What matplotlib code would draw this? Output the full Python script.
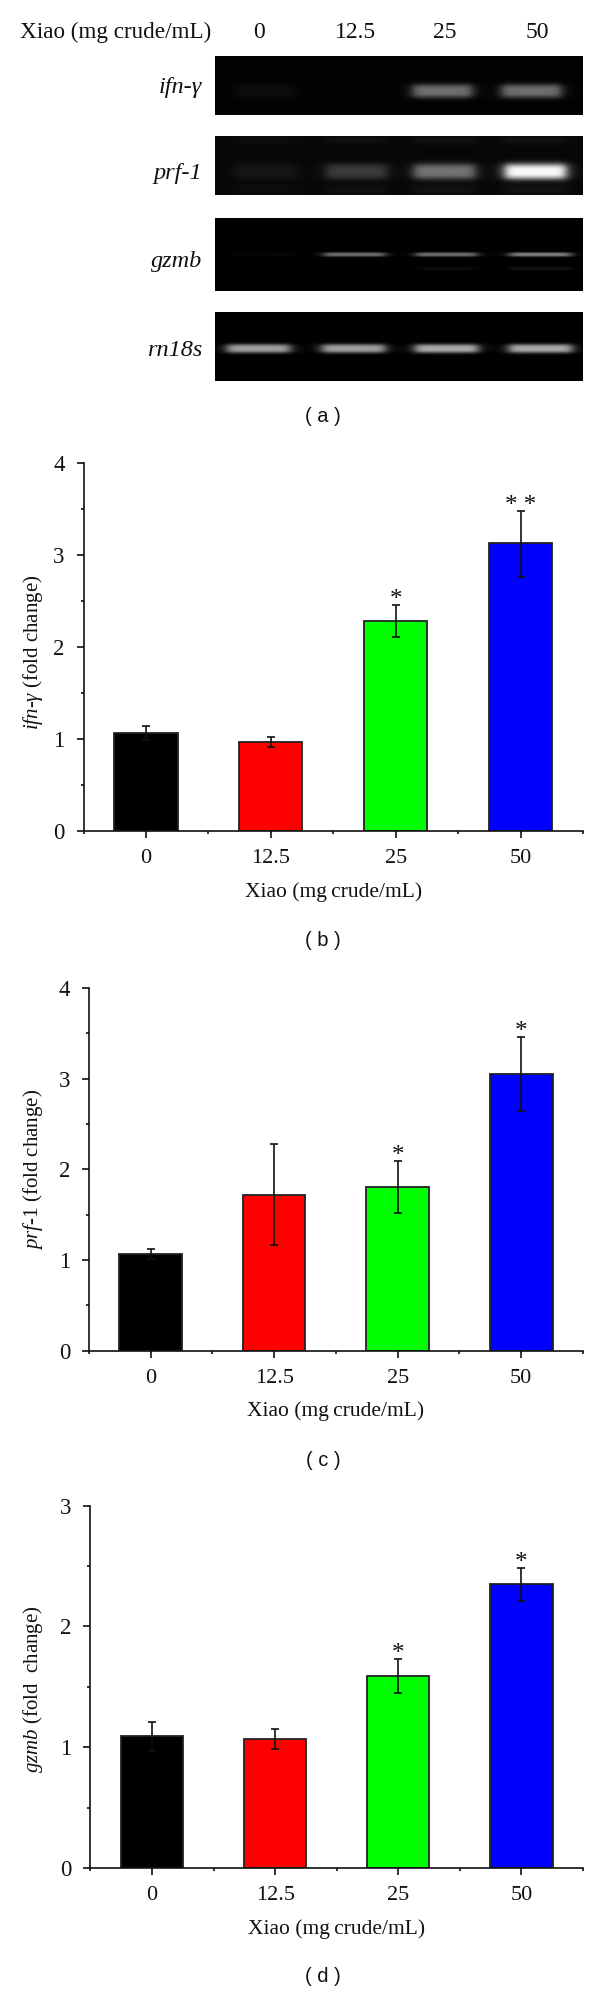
import numpy as np
import matplotlib
matplotlib.use('Agg')
import matplotlib.pyplot as plt
from matplotlib.ticker import MultipleLocator, FixedLocator

plt.rcParams['font.family'] = ['Liberation Serif', 'DejaVu Serif']
plt.rcParams['mathtext.fontset'] = 'custom'
plt.rcParams['mathtext.rm'] = 'Liberation Serif'
plt.rcParams['mathtext.it'] = 'Liberation Serif:italic'

W, H = 600, 1993

doses = ['0', '12.5', '25', '50']
bar_colors = ['#000000', '#ff0000', '#00ff00', '#0000ff']

# panel b
ifn_values = [1.067, 0.97, 2.283, 3.13]
ifn_low = [0.99, 0.911, 2.105, 2.766]
ifn_high = [1.143, 1.024, 2.457, 3.485]
ifn_stars = ['', '', '*', '* *']

# panel c
prf_values = [1.066, 1.72, 1.805, 3.05]
prf_low = [1.01, 1.165, 1.515, 2.643]
prf_high = [1.118, 2.276, 2.09, 3.46]
prf_stars = ['', '', '*', '*']

# panel d
gzmb_values = [1.089, 1.067, 1.591, 2.352]
gzmb_low = [0.97, 0.984, 1.447, 2.214]
gzmb_high = [1.208, 1.147, 1.729, 2.484]
gzmb_stars = ['', '', '*', '*']

# gel band brightness per lane, panel a
gene_names = ['ifn-γ', 'prf-1', 'gzmb', 'rn18s']
ifn_bands = [0.04, 0.0, 0.42, 0.42]
prf_bands = [0.06, 0.2, 0.42, 0.95]
prf_smear = [0.02, 0.03, 0.04, 0.04]
gzmb_bands = [0.03, 0.42, 0.42, 0.48]
gzmb_faint = [0.0, 0.0, 0.04, 0.08]
rn18s_bands = [0.62, 0.62, 0.66, 0.66]

fig = plt.figure(figsize=(W / 100, H / 100), dpi=100, facecolor='white')


def px_axes(left, right, top, bottom):
    return fig.add_axes([left / W, 1 - bottom / H, (right - left) / W, (bottom - top) / H])


def fig_text(x, y, s, **kw):
    fig.text(x / W, 1 - y / H, s, **kw)


def gel(top, bottom, centers, rows, half_w, base=0.0):
    # rows: (brightness per lane, y of the band, thickness)
    ax = px_axes(215, 583, top, bottom)
    yy, xx = np.mgrid[top:bottom, 215:583]
    img = np.full(yy.shape, base, dtype=float)
    for bands, band_y, sigma in rows:
        for c, b in zip(centers, bands):
            across = 1 / (1 + ((xx - c) / half_w) ** 10)
            img += b * across * np.exp(-(np.abs(yy - band_y) / sigma) ** 3)
    ax.imshow(np.clip(img, 0, 1), cmap='gray', vmin=0, vmax=1, aspect='auto')
    ax.axis('off')
    return ax


lane_xs = [259, 355, 445, 537]
gel(56, 115, [265, 354, 442, 531], [(ifn_bands, 90.5, 7)], 30, base=0.01)
gel(136, 195, [265, 356, 444, 535], [(prf_bands, 171, 8), (prf_smear, 189, 5), (prf_smear, 140, 4)], 31, base=0.03)
gel(218, 291, [265, 354, 446, 540], [(gzmb_bands, 254, 2.2), (gzmb_faint, 268, 1.8)], 31)
gel(312, 381, [258, 353, 446, 540], [(rn18s_bands, 348, 4.5)], 32)

fig_text(20, 32, 'Xiao (mg crude/mL)', fontsize=16.7, ha='left', va='center', color='#111111')
for x, d in zip(lane_xs, doses):
    fig_text(x, 32, d, fontsize=17, ha='center', va='center', color='#111111')
for y, g in zip([87, 173, 262, 350], gene_names):
    fig_text(202, y, g, fontsize=17.5, style='italic', ha='right', va='center', color='#111111')


def bar_panel(left, top, bottom, ymax, values, low, high, stars, ylabel, ylab_y, xlab_y):
    ax = px_axes(left, 583, top, bottom)
    xs = np.arange(len(values))
    ax.bar(xs, values, width=0.507, color=bar_colors, edgecolor='#222222', linewidth=1.3)
    yerr = [np.array(values) - np.array(low), np.array(high) - np.array(values)]
    ax.errorbar(xs, values, yerr=yerr, fmt='none', ecolor='#111111', elinewidth=1.2,
                capsize=2.8, capthick=1.2)
    for x, t, s in zip(xs, high, stars):
        if s:
            ax.annotate(s, (x, t), xytext=(0, -4.5), textcoords='offset points', ha='center',
                        va='bottom', fontsize=18, color='#111111')
    ax.set_xlim(-0.5, 3.5)
    ax.set_ylim(0, ymax)
    for side in ['top', 'right']:
        ax.spines[side].set_visible(False)
    for side in ['left', 'bottom']:
        ax.spines[side].set_linewidth(1.2)
        ax.spines[side].set_color('#111111')
    ax.set_xticks(xs)
    ax.set_xticklabels(doses, fontsize=16, color='#111111')
    ax.xaxis.set_minor_locator(FixedLocator([-0.5, 0.5, 1.5, 2.5, 3.5]))
    ax.yaxis.set_major_locator(MultipleLocator(1))
    ax.yaxis.set_minor_locator(MultipleLocator(0.5))
    ax.tick_params(axis='x', which='major', length=5, width=1.2, pad=8, color='#111111')
    ax.tick_params(axis='x', which='minor', length=2.5, width=1.2, color='#111111')
    ax.tick_params(axis='y', which='major', length=5, width=1.2, pad=8.5, labelsize=16.5,
                   color='#111111', labelcolor='#111111')
    ax.tick_params(axis='y', which='minor', length=2.5, width=1.2, color='#111111')
    fig_text(33, ylab_y, ylabel, fontsize=15, rotation=90, ha='center', va='center', color='#111111')
    fig_text(left + (583 - left) / 2, xlab_y, 'Xiao (mg\u2009crude/mL)', fontsize=15.5, ha='center',
             va='center', color='#111111')
    return ax


bar_panel(83.5, 463.3, 830.7, 4, ifn_values, ifn_low, ifn_high, ifn_stars,
          r'$\mathit{ifn}$-$\mathit{\gamma}$ (fold change)', 652, 892)
bar_panel(88.8, 988, 1350.7, 4, prf_values, prf_low, prf_high, prf_stars,
          r'$\mathit{prf}$-$\mathit{1}$ (fold change)', 1169, 1411)
bar_panel(90.4, 1505.7, 1868, 3, gzmb_values, gzmb_low, gzmb_high, gzmb_stars,
          r'$\mathit{gzmb}$ (fold  change)', 1689, 1929)

for y, lab in zip([416, 940, 1460, 1977], ['( a )', '( b )', '( c )', '( d )']):
    fig_text(323, y, lab, fontsize=14.5, family='Liberation Sans', ha='center', va='center', color='#111111')

fig.savefig('out.png', dpi=100, facecolor='white')
